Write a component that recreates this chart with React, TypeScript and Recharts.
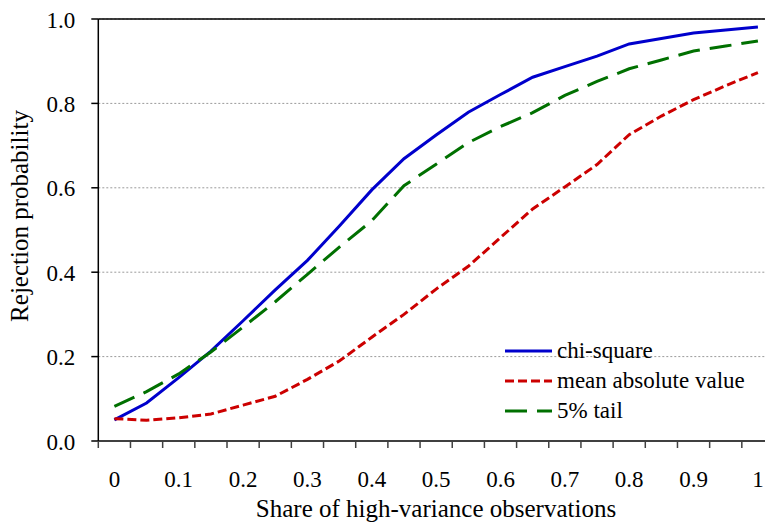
import React from "react";
import {
  LineChart, Line, XAxis, YAxis, CartesianGrid, ReferenceLine, Legend, Label,
} from "recharts";

const FONT = "Liberation Serif, Tinos, DejaVu Serif, serif";

// share of high-variance observations (x) and rejection probabilities per test
const shares = [
  0, 0.05, 0.1, 0.15, 0.2, 0.25, 0.3, 0.35, 0.4, 0.45, 0.5,
  0.55, 0.6, 0.65, 0.7, 0.75, 0.8, 0.85, 0.9, 0.95, 1,
];
const chiSquare = [
  0.05, 0.09, 0.15, 0.213, 0.285, 0.358, 0.428, 0.51, 0.595, 0.669, 0.725,
  0.779, 0.821, 0.862, 0.887, 0.912, 0.941, 0.954, 0.967, 0.974, 0.981,
];
const meanAbsolute = [
  0.053, 0.049, 0.055, 0.064, 0.085, 0.106, 0.146, 0.19, 0.246, 0.3, 0.36,
  0.414, 0.482, 0.55, 0.602, 0.655, 0.726, 0.77, 0.809, 0.842, 0.873,
];
const tail5 = [
  0.082, 0.117, 0.159, 0.211, 0.27, 0.33, 0.395, 0.46, 0.522, 0.605, 0.656,
  0.707, 0.745, 0.778, 0.819, 0.852, 0.882, 0.903, 0.924, 0.936, 0.948,
];

const xLabelValues = [0, 0.1, 0.2, 0.3, 0.4, 0.5, 0.6, 0.7, 0.8, 0.9, 1];
const xLabels = ["0", "0.1", "0.2", "0.3", "0.4", "0.5", "0.6", "0.7", "0.8", "0.9", "1"];
const yTicks = [0, 0.2, 0.4, 0.6, 0.8, 1];

const SERIES = [
  { key: "chi", name: "chi-square", color: "#0000cc", dash: undefined },
  { key: "mav", name: "mean absolute value", color: "#cc0000", dash: "9 4" },
  { key: "tail", name: "5% tail", color: "#007000", dash: "22 10" },
];

const data = shares.map((s, i) => ({
  share: s,
  chi: chiSquare[i],
  mav: meanAbsolute[i],
  tail: tail5[i],
}));

// tick marks sit between categories, labels on the categories
const step = shares[1] - shares[0];
const boundaries = Array.from({ length: shares.length + 1 }, (_, k) => -step / 2 + k * step);
const xTicks = [...boundaries, ...xLabelValues];

const textStyle = { fontFamily: FONT, fontSize: 23, fill: "#000" };

function XTick(props: any) {
  const { x, y, payload } = props;
  const idx = xLabelValues.indexOf(payload.value);
  if (idx >= 0) {
    return (
      <text x={x} y={y + 46} textAnchor="middle" style={textStyle}>
        {xLabels[idx]}
      </text>
    );
  }
  return <line x1={x} x2={x} y1={y} y2={y + 7} stroke="#404040" strokeWidth={1.5} />;
}

function YTick(props: any) {
  const { x, y, payload } = props;
  return (
    <text x={x} y={y + 8.5} textAnchor="end" style={textStyle}>
      {payload.value.toFixed(1)}
    </text>
  );
}

function LegendBox() {
  return (
    <div style={{ fontFamily: FONT, fontSize: 23, color: "#000" }}>
      {SERIES.map((s) => (
        <div key={s.key} style={{ display: "flex", alignItems: "center", height: 30.2, whiteSpace: "nowrap" }}>
          <svg width={47} height={6} style={{ marginRight: 5 }}>
            <line x1={0} x2={47} y1={3} y2={3} stroke={s.color} strokeWidth={3} strokeDasharray={s.dash} />
          </svg>
          <span>{s.name}</span>
        </div>
      ))}
    </div>
  );
}

export default function App() {
  return (
    <div style={{ position: "absolute", left: 0, top: 0, width: 765, height: 527, overflow: "hidden", background: "#fff" }}>
      <LineChart width={774} height={527} data={data} margin={{ top: 19, right: 0, bottom: 0, left: 0 }}>
        <CartesianGrid vertical={false} stroke="#9a9a9a" strokeDasharray="2 2" />
        <XAxis
          dataKey="share"
          type="number"
          domain={[-step / 2, 1 + step / 2]}
          ticks={xTicks}
          interval={0}
          allowDataOverflow
          height={86}
          tickSize={0}
          tickMargin={0}
          tickLine={false}
          tick={<XTick />}
          axisLine={{ stroke: "#404040", strokeWidth: 2 }}
        >
          <Label
            content={() => (
              <text x={436} y={517} textAnchor="middle" style={{ ...textStyle, fontSize: 25 }}>
                Share of high-variance observations
              </text>
            )}
          />
        </XAxis>
        <YAxis
          type="number"
          domain={[0, 1]}
          ticks={yTicks}
          interval={0}
          width={98.3}
          tickSize={7}
          tickMargin={16}
          tick={<YTick />}
          tickLine={{ stroke: "#000", strokeWidth: 1.5 }}
          axisLine={{ stroke: "#000", strokeWidth: 1.5 }}
        >
          <Label
            content={() => (
              <text
                x={28}
                y={216}
                transform="rotate(-90 28 216)"
                textAnchor="middle"
                style={{ ...textStyle, fontSize: 25 }}
              >
                Rejection probability
              </text>
            )}
          />
        </YAxis>
        <ReferenceLine y={1} stroke="#000" strokeWidth={1.5} />
        {SERIES.map((s) => (
          <Line
            key={s.key}
            type="linear"
            dataKey={s.key}
            name={s.name}
            stroke={s.color}
            strokeWidth={3}
            strokeDasharray={s.dash}
            dot={false}
            isAnimationActive={false}
          />
        ))}
        <Legend
          layout="vertical"
          align="center"
          verticalAlign="middle"
          content={<LegendBox />}
          wrapperStyle={{ left: 505, top: 336, width: 260, right: "auto", bottom: "auto" }}
        />
      </LineChart>
    </div>
  );
}
